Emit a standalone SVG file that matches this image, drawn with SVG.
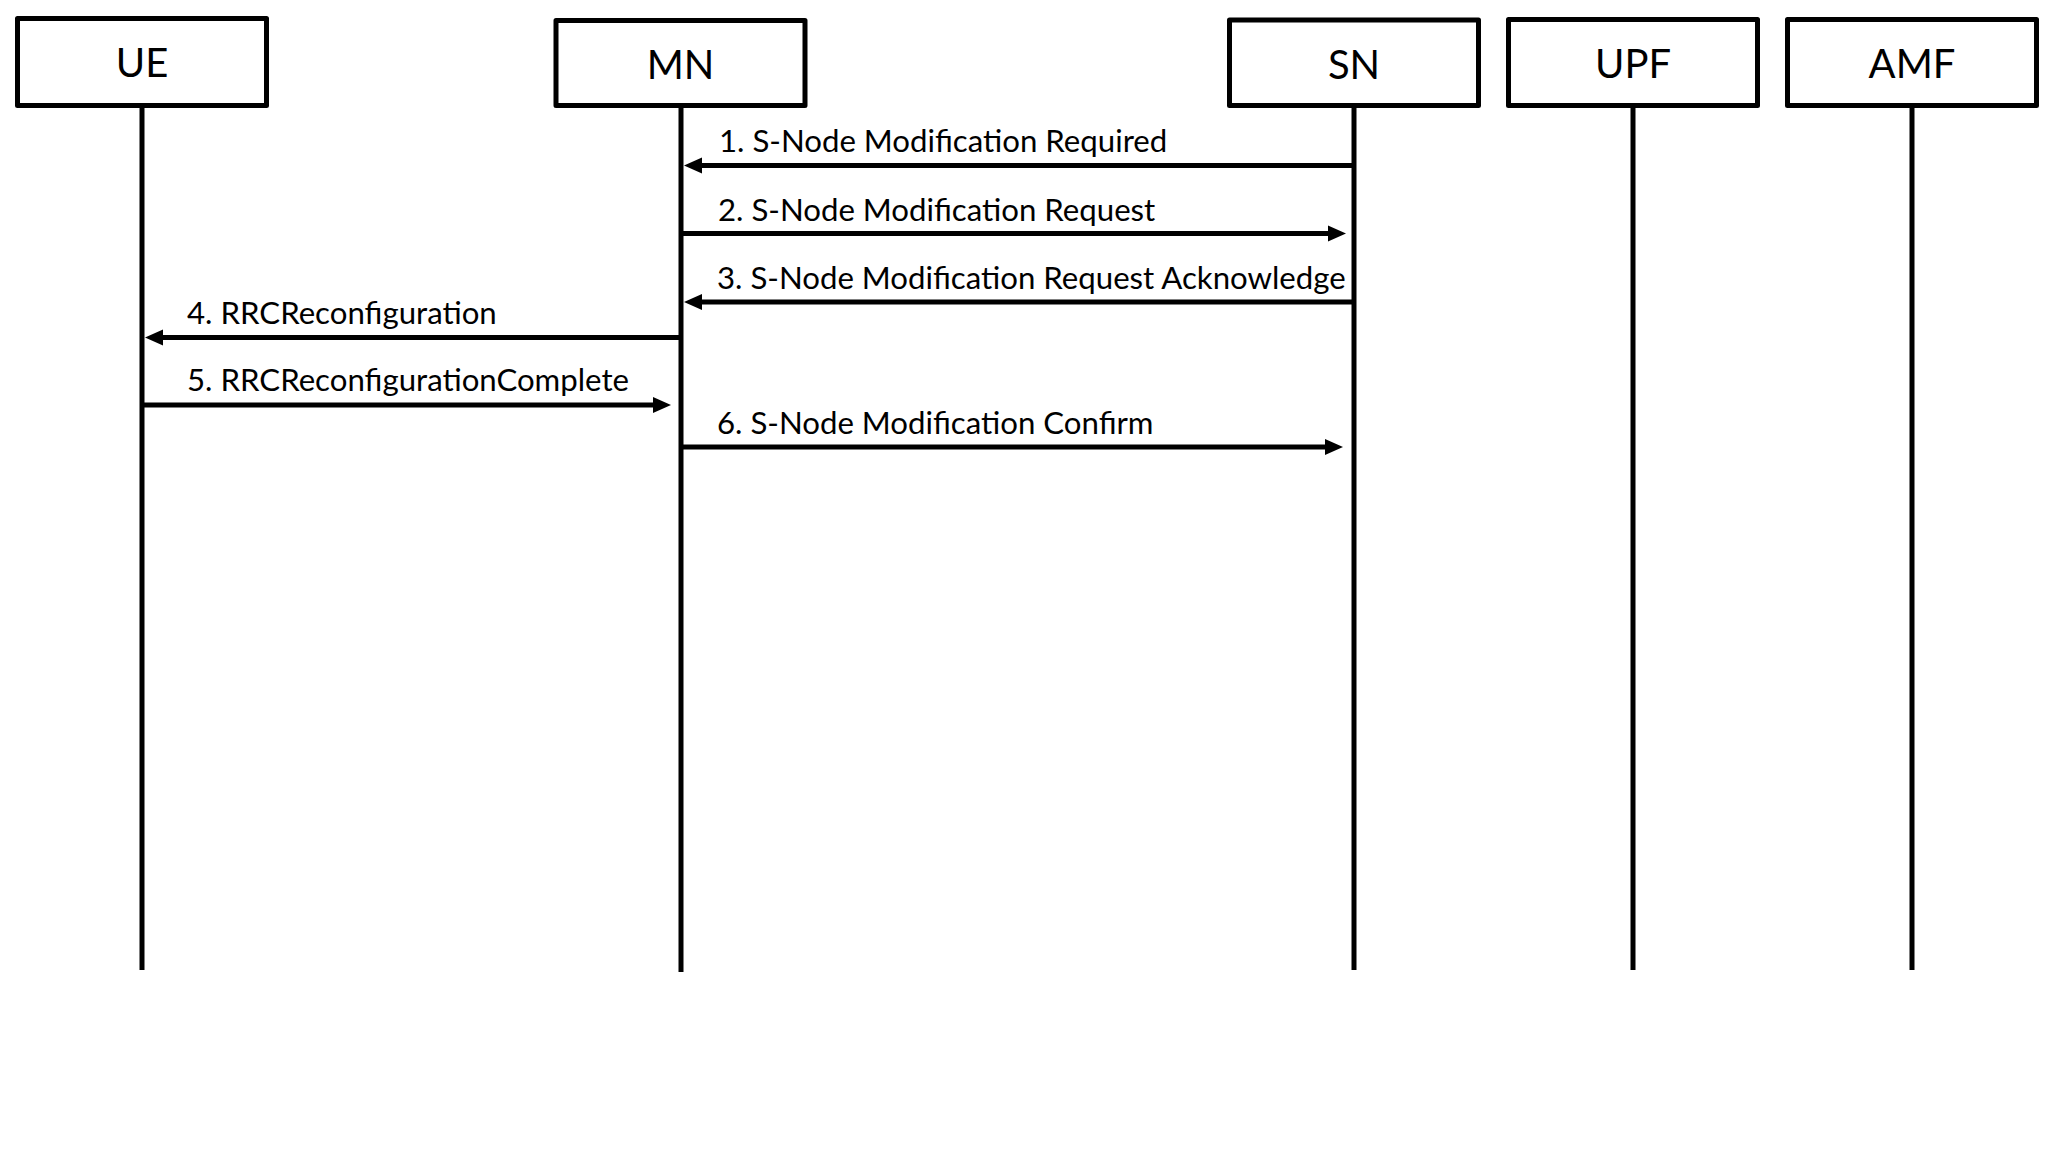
<svg xmlns="http://www.w3.org/2000/svg" width="2048" height="1154" viewBox="0 0 2048 1154">
<style>
.box{fill:#fff;stroke:#000;stroke-width:5;stroke-linejoin:round}
.name{font-family:Lato,"Liberation Sans",sans-serif;font-size:40px;fill:#000;text-anchor:middle}
.life{stroke:#000;stroke-width:5;fill:none}
.msg{stroke:#000;stroke-width:5;fill:none;marker-end:url(#ah)}
.lbl{font-family:Lato,"Liberation Sans",sans-serif;font-size:31.2px;fill:#000}
</style>
<defs>
<marker id="ah" markerUnits="userSpaceOnUse" markerWidth="18" markerHeight="16" refX="0" refY="8" orient="auto" overflow="visible">
<path d="M0,0 L18,8 L0,16 z" fill="#000"/>
</marker>
</defs>
<rect width="2048" height="1154" fill="#fff"/>
<g id="UE">
<line class="life" x1="142" y1="105" x2="142" y2="970"/>
<rect class="box" x="17.5" y="18.5" width="249" height="87"/>
<text class="name" x="142" y="77">UE</text>
</g>
<g id="MN">
<line class="life" x1="681" y1="105" x2="681" y2="972"/>
<rect class="box" x="556" y="20.5" width="249" height="85"/>
<text class="name" x="680.5" y="78.5">MN</text>
</g>
<g id="SN">
<line class="life" x1="1354" y1="105" x2="1354" y2="970"/>
<rect class="box" x="1229.5" y="20" width="249" height="85.5"/>
<text class="name" x="1354" y="78.5">SN</text>
</g>
<g id="UPF">
<line class="life" x1="1633" y1="105" x2="1633" y2="970"/>
<rect class="box" x="1508.5" y="19.5" width="249" height="86"/>
<text class="name" x="1633" y="78">UPF</text>
</g>
<g id="AMF">
<line class="life" x1="1912" y1="105" x2="1912" y2="970"/>
<rect class="box" x="1787.5" y="19.5" width="249" height="86"/>
<text class="name" x="1912" y="78">AMF</text>
</g>
<g id="connectors">
<line class="msg" x1="1354" y1="165.5" x2="702" y2="165.5"/>
<text class="lbl" x="719" y="151.5">1. S-Node Modification Required</text>
<line class="msg" x1="681" y1="233.5" x2="1328" y2="233.5"/>
<text class="lbl" x="718" y="221">2. S-Node Modification Request</text>
<line class="msg" x1="1354" y1="302" x2="702" y2="302"/>
<text class="lbl" x="717" y="288.5">3. S-Node Modification Request Acknowledge</text>
<line class="msg" x1="681" y1="337.5" x2="163" y2="337.5"/>
<text class="lbl" x="187" y="323.5">4. RRCReconfiguration</text>
<line class="msg" x1="142" y1="405" x2="653" y2="405"/>
<text class="lbl" x="187" y="391">5. RRCReconfigurationComplete</text>
<line class="msg" x1="681" y1="447" x2="1325" y2="447"/>
<text class="lbl" x="717" y="433.5">6. S-Node Modification Confirm</text>
</g>
</svg>
